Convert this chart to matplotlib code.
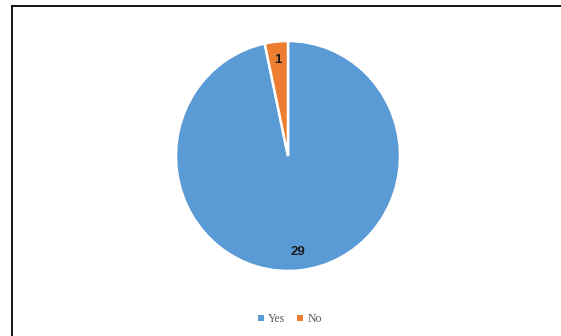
import matplotlib.pyplot as plt
from matplotlib.lines import Line2D
from matplotlib.patches import Patch

labels = ['Yes', 'No']
values = [29, 1]
colors = ['#5B9BD5', '#ED7D31']

W, H = 561, 336
fig = plt.figure(figsize=(W / 100, H / 100), dpi=100)

# pie area in pixels
x0, x1, y0, y1 = 176, 400, 41, 271
ax = fig.add_axes([x0 / W, 1 - y1 / H, (x1 - x0) / W, (y1 - y0) / H])

total = sum(values)
wedges, _, autotexts = ax.pie(
    values, colors=colors, startangle=90, counterclock=False,
    autopct=lambda p: f'{round(p * total / 100)}', pctdistance=0.84,
    wedgeprops=dict(edgecolor='white', linewidth=1.8),
    textprops=dict(fontsize=9.5, fontweight='bold', color='#1a1a1a',
                   family='Liberation Sans'),
)
ax.set_aspect('auto')
ax.set_xlim(-1, 1)
ax.set_ylim(-1, 1)

handles = [Patch(facecolor=c, edgecolor='none') for c in colors]
fig.legend(handles, labels, loc='center', bbox_to_anchor=(290 / W, 1 - 319 / H),
           ncol=2, frameon=False, handlelength=0.45, handleheight=0.45,
           handletextpad=0.4, columnspacing=1.0,
           prop=dict(family='Liberation Serif', size=8.5), labelcolor='#595959')

# outer frame lines (left and top)
fig.add_artist(Line2D([11.5 / W, 11.5 / W], [0, 1 - 5.5 / H], color='black', lw=1.3,
                      transform=fig.transFigure))
fig.add_artist(Line2D([11.5 / W, 1], [1 - 5.5 / H, 1 - 5.5 / H], color='black', lw=1.3,
                      transform=fig.transFigure))

fig.savefig('out.png', dpi=100)
